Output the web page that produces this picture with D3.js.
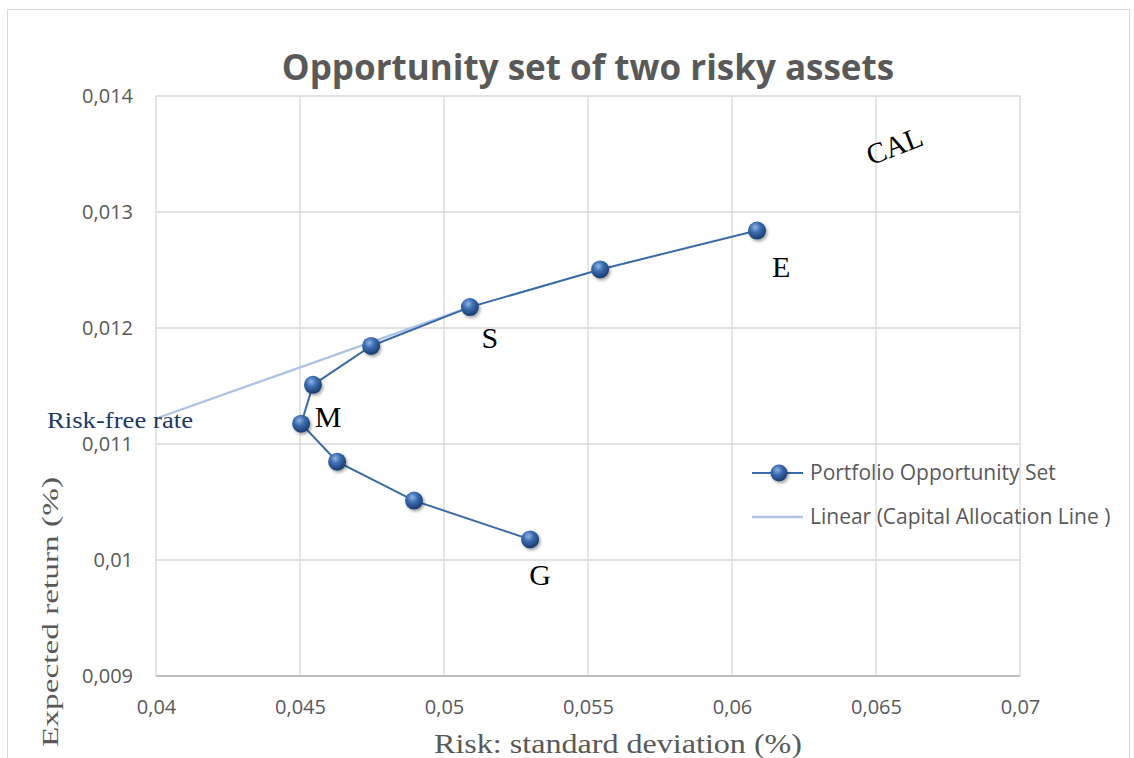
<!DOCTYPE html>
<html>
<head>
<meta charset="utf-8">
<script src="https://cdn.jsdelivr.net/npm/d3@7"></script>
<style>
  body { margin: 0; background: #fff; }
  svg { display: block; }
</style>
</head>
<body>
<div id="chart"></div>
<script>
// portfolio opportunity set (risk, return)
var riskVals = [0.06087, 0.05542, 0.0509, 0.04747, 0.04545, 0.04504, 0.04629, 0.04896, 0.05299];
var returnVals = [0.01284, 0.012505, 0.01218, 0.011845, 0.01151, 0.011175, 0.010848, 0.010512, 0.010177];
var pointLabels = ["E", "", "S", "", "", "M", "", "", "G"];
// capital allocation line (risk-free rate to S)
var calRisk = [0.04, 0.0509];
var calReturn = [0.01122, 0.01218];
var xTicks = [0.04, 0.045, 0.05, 0.055, 0.06, 0.065, 0.07];
var yTicks = [0.009, 0.01, 0.011, 0.012, 0.013, 0.014];

var W = 1134, H = 758;
var margin = { top: 96, right: 114, bottom: 80, left: 156 };

var svg = d3.select("#chart").append("svg").attr("width", W).attr("height", H);

var defs = svg.append("defs");
var grad = defs.append("radialGradient").attr("id", "ball")
  .attr("cx", "40%").attr("cy", "32%").attr("r", "65%");
grad.append("stop").attr("offset", "0%").attr("stop-color", "#8fb3e3");
grad.append("stop").attr("offset", "45%").attr("stop-color", "#3b6cb0");
grad.append("stop").attr("offset", "100%").attr("stop-color", "#1d3f72");
var shadow = defs.append("filter").attr("id", "shd").attr("x", "-50%").attr("y", "-50%").attr("width", "200%").attr("height", "200%");
shadow.append("feDropShadow").attr("dx", 1.5).attr("dy", 2).attr("stdDeviation", 1.5)
  .attr("flood-color", "#000").attr("flood-opacity", 0.35);

// outer frame
svg.append("rect").attr("x", 7.5).attr("y", 9.5).attr("width", 1122).attr("height", 760)
  .attr("fill", "none").attr("stroke", "#d9d9d9");

var x = d3.scaleLinear().domain([0.04, 0.07]).range([margin.left, W - margin.right]);
var y = d3.scaleLinear().domain([0.009, 0.014]).range([H - margin.bottom - 2, margin.top]);

var fmt = function (d) { return String(+d.toFixed(3)).replace(".", ","); };

// gridlines
svg.append("g").selectAll("line").data(xTicks).enter().append("line")
  .attr("x1", function (d) { return x(d); }).attr("x2", function (d) { return x(d); })
  .attr("y1", y(0.014)).attr("y2", y(0.009))
  .attr("stroke", "#d9d9d9").attr("stroke-width", 1.3);
svg.append("g").selectAll("line").data(yTicks).enter().append("line")
  .attr("x1", x(0.04)).attr("x2", x(0.07))
  .attr("y1", function (d) { return y(d); }).attr("y2", function (d) { return y(d); })
  .attr("stroke", function (d) { return d === 0.009 ? "#bfbfbf" : "#d9d9d9"; })
  .attr("stroke-width", function (d) { return d === 0.009 ? 2 : 1.3; });

// axes (labels only)
var xAxis = svg.append("g").attr("transform", "translate(0," + y(0.009) + ")")
  .call(d3.axisBottom(x).tickValues(xTicks).tickFormat(fmt).tickSize(0).tickPadding(24));
var yAxis = svg.append("g").attr("transform", "translate(" + x(0.04) + ",0)")
  .call(d3.axisLeft(y).tickValues(yTicks).tickFormat(fmt).tickSize(0).tickPadding(23));
[xAxis, yAxis].forEach(function (a) {
  a.select(".domain").remove();
  a.selectAll("text").attr("fill", "#595959")
    .style("font-family", "'Open Sans', sans-serif").style("font-size", "20px");
});

// title
svg.append("text").attr("x", 588).attr("y", 80).attr("text-anchor", "middle")
  .attr("fill", "#595959").style("font-family", "'Open Sans', sans-serif")
  .style("font-size", "35px").style("font-weight", "bold")
  .text("Opportunity set of two risky assets");

// axis titles
svg.append("text").attr("x", 434).attr("y", 753)
  .attr("textLength", 368).attr("lengthAdjust", "spacingAndGlyphs")
  .attr("fill", "#595959").style("font-family", "'Liberation Serif', serif").style("font-size", "27px")
  .text("Risk: standard deviation (%)");
svg.append("text").attr("transform", "translate(58,747) rotate(-90)")
  .attr("textLength", 270).attr("lengthAdjust", "spacingAndGlyphs")
  .attr("fill", "#595959").style("font-family", "'Liberation Serif', serif").style("font-size", "23px")
  .text("Expected return (%)");

// CAL line
var calData = calRisk.map(function (d, i) { return [d, calReturn[i]]; });
svg.append("path").datum(calData)
  .attr("d", d3.line().x(function (d) { return x(d[0]); }).y(function (d) { return y(d[1]); }))
  .attr("fill", "none").attr("stroke", "#aec3e4").attr("stroke-width", 2.2);

// opportunity set
var pts = riskVals.map(function (d, i) { return { r: d, e: returnVals[i], lab: pointLabels[i] }; });
svg.append("path").datum(pts)
  .attr("d", d3.line().x(function (d) { return x(d.r); }).y(function (d) { return y(d.e); }))
  .attr("fill", "none").attr("stroke", "#3a6aa8").attr("stroke-width", 2);
svg.append("g").selectAll("circle").data(pts).enter().append("circle")
  .attr("cx", function (d) { return x(d.r); }).attr("cy", function (d) { return y(d.e); })
  .attr("r", 9).attr("fill", "url(#ball)").attr("filter", "url(#shd)");

// point labels
var labOff = { E: [24, 46], S: [20, 41], M: [27, 3], G: [10, 46] };
svg.append("g").selectAll("text").data(pts.filter(function (d) { return d.lab; })).enter().append("text")
  .attr("x", function (d) { return x(d.r) + labOff[d.lab][0]; })
  .attr("y", function (d) { return y(d.e) + labOff[d.lab][1]; })
  .attr("text-anchor", "middle").attr("fill", "#000")
  .style("font-family", "'Liberation Serif', serif").style("font-size", "30px")
  .text(function (d) { return d.lab; });

svg.append("text").attr("x", 47).attr("y", 428)
  .attr("textLength", 146).attr("lengthAdjust", "spacingAndGlyphs")
  .attr("fill", "#1f3864").style("font-family", "'Liberation Serif', serif").style("font-size", "23px")
  .text("Risk-free rate");

svg.append("text").attr("transform", "translate(898,155) rotate(-21)").attr("text-anchor", "middle")
  .attr("fill", "#000").style("font-family", "'Liberation Serif', serif").style("font-size", "29px")
  .text("CAL");

// legend
var lg = svg.append("g").attr("transform", "translate(752,473)");
lg.append("line").attr("x1", 0).attr("x2", 51).attr("y1", 0).attr("y2", 0)
  .attr("stroke", "#3a6aa8").attr("stroke-width", 2);
lg.append("circle").attr("cx", 27).attr("cy", 0).attr("r", 8.5).attr("fill", "url(#ball)").attr("filter", "url(#shd)");
lg.append("text").attr("x", 58).attr("y", 7).attr("fill", "#595959")
  .style("font-family", "'Open Sans', sans-serif").style("font-size", "21px")
  .text("Portfolio Opportunity Set");
lg.append("line").attr("x1", 0).attr("x2", 51).attr("y1", 44).attr("y2", 44)
  .attr("stroke", "#aec3e4").attr("stroke-width", 2.5);
lg.append("text").attr("x", 58).attr("y", 51).attr("fill", "#595959")
  .style("font-family", "'Open Sans', sans-serif").style("font-size", "21px")
  .text("Linear (Capital Allocation Line )");
</script>
</body>
</html>
